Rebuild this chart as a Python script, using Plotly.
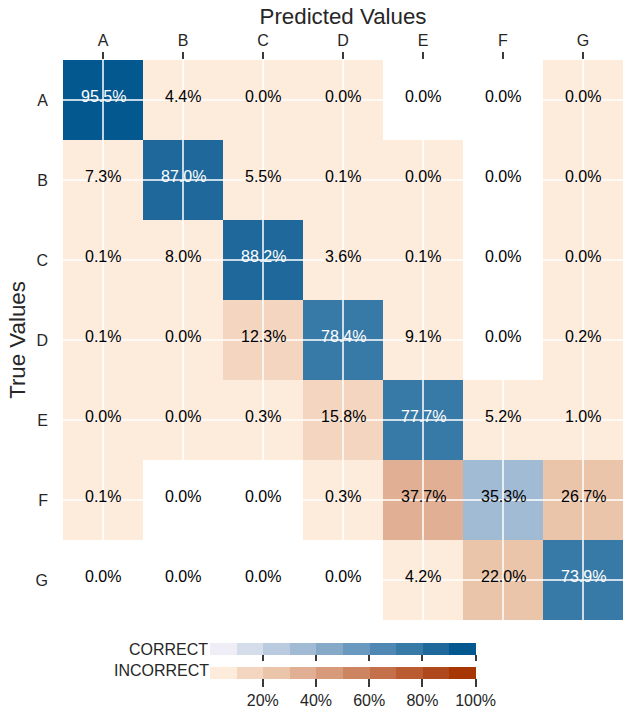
import plotly.graph_objects as go

labels = ["A", "B", "C", "D", "E", "F", "G"]

# percentages (rows = true class, columns = predicted class)
# tiny non-zero values (shown as 0.0%) are stored as 0.02; exact zeros as 0
row_A = [95.5, 4.4, 0.02, 0.02, 0.0, 0.0, 0.02]
row_B = [7.3, 87.0, 5.5, 0.1, 0.02, 0.0, 0.02]
row_C = [0.1, 8.0, 88.2, 3.6, 0.1, 0.0, 0.02]
row_D = [0.1, 0.02, 12.3, 78.4, 9.1, 0.0, 0.2]
row_E = [0.02, 0.02, 0.3, 15.8, 77.7, 5.2, 1.0]
row_F = [0.1, 0.0, 0.0, 0.3, 37.7, 35.3, 26.7]
row_G = [0.0, 0.0, 0.0, 0.0, 4.2, 22.0, 73.9]
matrix = [row_A, row_B, row_C, row_D, row_E, row_F, row_G]

cbar_ticks = [20, 40, 60, 80, 100]
cbar_ticktext = ["20%", "40%", "60%", "80%", "100%"]

blue_bins = ["#efedf5", "#d4dde9", "#bacbdf", "#a1bbd4", "#86a9c8",
             "#6a99bf", "#4f89b3", "#387aa7", "#1e689b", "#03588f"]
orange_bins = ["#fdebdc", "#f4d6c0", "#ebc5aa", "#e1af93", "#d79a7b",
               "#cd8461", "#c4704a", "#ba5b32", "#b0481d", "#a63603"]


def discrete(colors):
    n = len(colors)
    cs = []
    for i, c in enumerate(colors):
        cs.append([i / n, c])
        cs.append([(i + 1) / n, c])
    return cs


n = len(labels)
z_correct = [[matrix[i][j] if i == j else None for j in range(n)] for i in range(n)]
z_incorrect = [[matrix[i][j] if (i != j and matrix[i][j] > 0) else None for j in range(n)]
               for i in range(n)]

FONT = "Liberation Sans, Arial, sans-serif"
DARK = "#262626"

fig = go.Figure()
fig.add_trace(go.Heatmap(
    z=z_incorrect, x=labels, y=labels, colorscale=discrete(orange_bins),
    zmin=0, zmax=100, hoverongaps=False,
    colorbar=dict(orientation="h", x=(342.6 - 63) / 560, xanchor="center",
                  y=(620 - 666.7) / 560, yanchor="top", len=266, lenmode="pixels",
                  thickness=12, thicknessmode="pixels", xpad=0, ypad=0,
                  outlinewidth=0, ticks="outside", ticklen=8, tickwidth=1.5,
                  tickcolor="#3a3a3a", tickvals=cbar_ticks, ticktext=cbar_ticktext,
                  tickfont=dict(family=FONT, size=16, color=DARK)),
))
fig.add_trace(go.Heatmap(
    z=z_correct, x=labels, y=labels, colorscale=discrete(blue_bins),
    zmin=0, zmax=100, hoverongaps=False,
    colorbar=dict(orientation="h", x=(342.6 - 63) / 560, xanchor="center",
                  y=(620 - 642.7) / 560, yanchor="top", len=266, lenmode="pixels",
                  thickness=12, thicknessmode="pixels", xpad=0, ypad=0,
                  outlinewidth=0, ticks="outside", ticklen=6, tickwidth=1.5,
                  tickcolor="#3a3a3a", tickvals=cbar_ticks, showticklabels=False),
))

# white grid lines at category centres, drawn above the cells
for lab in labels:
    fig.add_shape(type="line", xref="x", yref="y domain", x0=lab, x1=lab, y0=0, y1=1,
                  line=dict(color="white", width=1.5), layer="above")
    fig.add_shape(type="line", xref="x domain", yref="y", x0=0, x1=1, y0=lab, y1=lab,
                  line=dict(color="white", width=1.5), layer="above")

# cell texts
for i, tl in enumerate(labels):
    for j, pl in enumerate(labels):
        v = matrix[i][j]
        color = "white" if (i == j and v >= 50) else "black"
        fig.add_annotation(x=pl, y=tl, text=f"{v:.1f}%", showarrow=False,
                           yshift=4, font=dict(family=FONT, size=16, color=color))

fig.add_annotation(text="CORRECT", xref="paper", yref="paper",
                   x=(210 - 63) / 560, y=(620 - 649) / 560, xanchor="right",
                   yanchor="middle", showarrow=False,
                   font=dict(family=FONT, size=16, color=DARK))
fig.add_annotation(text="INCORRECT", xref="paper", yref="paper",
                   x=(211 - 63) / 560, y=(620 - 670.5) / 560, xanchor="right",
                   yanchor="middle", showarrow=False,
                   font=dict(family=FONT, size=16, color=DARK))

fig.update_layout(
    width=639, height=718,
    margin=dict(l=63, r=16, t=60, b=98, autoexpand=False),
    paper_bgcolor="white", plot_bgcolor="white",
    font=dict(family=FONT, color=DARK),
    xaxis=dict(side="top", showgrid=False, zeroline=False, showline=False,
               automargin=False,
               ticks="outside", ticklen=7, tickwidth=1.5, tickcolor="#3a3a3a",
               tickfont=dict(size=16, color=DARK),
               title=dict(text="Predicted Values", font=dict(size=22.3, color=DARK),
                          standoff=0)),
    yaxis=dict(autorange="reversed", showgrid=False, zeroline=False, showline=False,
               automargin=False,
               ticks="", ticklabelstandoff=14, tickfont=dict(size=16, color=DARK),
               title=dict(text="True Values", font=dict(size=22.3, color=DARK),
                          standoff=3)),
)

fig.write_html("out.html", config={"displayModeBar": False},
               post_script="document.body.style.margin='0';")
